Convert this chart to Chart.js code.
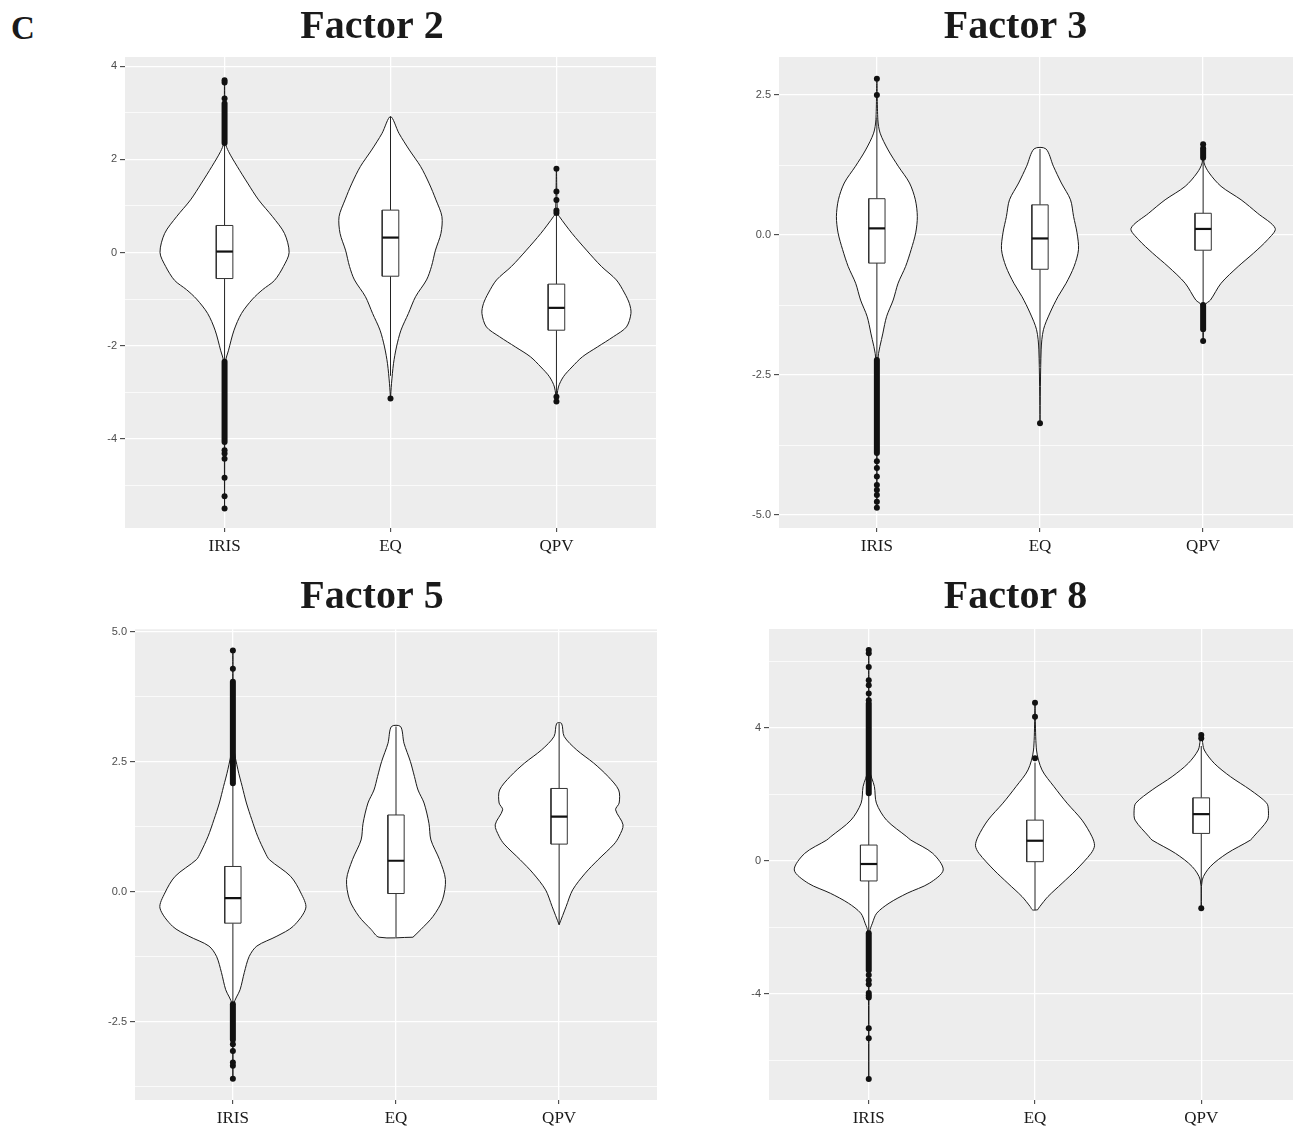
<!doctype html>
<html>
<head>
<title>Factors</title>
<script src="https://cdn.jsdelivr.net/npm/chart.js"></script>
<style>
  body { margin: 0; width: 1293px; height: 1127px; overflow: hidden; background: #fff; position: relative; }
  .panel { position: absolute; }
  #letter { position: absolute; left: 11px; top: 12px; font: bold 33px/33px 'Liberation Serif', serif; color: #1a1a1a; }
</style>
</head>
<body>
<div id="letter">C</div>
<div class="panel" style="left:88px;top:0px"><canvas id="f2" width="568" height="565"></canvas></div>
<div class="panel" style="left:730px;top:0px"><canvas id="f3" width="571" height="565"></canvas></div>
<div class="panel" style="left:87px;top:570px"><canvas id="f5" width="570" height="567"></canvas></div>
<div class="panel" style="left:730px;top:570px"><canvas id="f8" width="571" height="567"></canvas></div>

<script>
var categories = ['IRIS', 'EQ', 'QPV'];

// violin profiles: [value, half width in category units], bottom to top
// boxes: [lower whisker, q1, median, q3, upper whisker]

// Factor 2
var f2Range = [-5.92, 4.2];
var f2Major = [-4, -2, 0, 2, 4];
var f2TickLabels = ['-4', '-2', '0', '2', '4'];
var f2Minor = [-5, -3, -1, 1, 3];
var f2ViolinIRIS = [[-5.5, 0], [-2.35, 0.006], [-2.1, 0.024], [-1.67, 0.057], [-1.31, 0.102], [-1.0, 0.169], [-0.8, 0.229], [-0.6, 0.301], [-0.3, 0.355], [0.0, 0.389], [0.41, 0.361], [0.77, 0.289], [1.13, 0.205], [1.49, 0.139], [1.85, 0.076], [2.17, 0.024], [2.35, 0.006], [3.72, 0]];
var f2ViolinEQ = [[-3.14, 0], [-2.82, 0.006], [-2.39, 0.018], [-2.03, 0.036], [-1.67, 0.063], [-1.31, 0.108], [-0.95, 0.151], [-0.59, 0.217], [-0.3, 0.247], [0.05, 0.271], [0.41, 0.304], [0.77, 0.31], [1.13, 0.274], [1.49, 0.232], [1.85, 0.181], [2.2, 0.114], [2.56, 0.051], [2.92, 0]];
var f2ViolinQPV = [[-3.2, 0], [-2.89, 0.012], [-2.67, 0.042], [-2.46, 0.094], [-2.24, 0.157], [-2.03, 0.247], [-1.81, 0.343], [-1.6, 0.422], [-1.31, 0.449], [-1.1, 0.44], [-0.87, 0.41], [-0.59, 0.361], [-0.3, 0.271], [0.05, 0.181], [0.41, 0.094], [0.77, 0.018], [0.85, 0.006], [1.8, 0]];
var f2Boxes = [[-2.3, -0.56, 0.02, 0.58, 2.3], [-2.65, -0.51, 0.32, 0.91, 2.92], [-3.1, -1.67, -1.19, -0.68, 0.8]];
var f2Strips = [[[-4.07, -2.35], [2.35, 3.2]], [], []];
var f2Outliers = [[-5.5, -5.24, -4.84, -4.43, -4.32, -4.25, 3.31, 3.65, 3.7], [-3.14], [-3.2, -3.1, 0.85, 0.9, 1.13, 1.31, 1.8]];

// Factor 3
var f3Range = [-5.23, 3.18];
var f3Major = [-5, -2.5, 0, 2.5];
var f3TickLabels = ['-5.0', '-2.5', '0.0', '2.5'];
var f3Minor = [-3.75, -1.25, 1.25];
var f3ViolinIRIS = [[-4.87, 0], [-2.23, 0.006], [-1.75, 0.037], [-1.45, 0.06], [-1.16, 0.1], [-0.86, 0.13], [-0.56, 0.176], [-0.26, 0.21], [0.04, 0.238], [0.33, 0.248], [0.63, 0.236], [0.93, 0.2], [1.23, 0.131], [1.52, 0.069], [1.82, 0.02], [2.06, 0.006], [2.79, 0]];
var f3ViolinEQ = [[-3.36, 0], [-2.05, 0.007], [-1.69, 0.021], [-1.39, 0.061], [-1.1, 0.11], [-0.86, 0.16], [-0.56, 0.209], [-0.26, 0.236], [0.04, 0.227], [0.33, 0.206], [0.63, 0.187], [0.93, 0.131], [1.23, 0.082], [1.54, 0.036]];
var f3ViolinQPV = [[-1.9, 0], [-1.25, 0.012], [-1.16, 0.045], [-0.86, 0.11], [-0.56, 0.215], [-0.32, 0.31], [-0.08, 0.396], [0.12, 0.442], [0.39, 0.334], [0.63, 0.233], [0.87, 0.11], [1.11, 0.037], [1.29, 0.006], [1.62, 0]];
var f3Boxes = [[-2.2, -0.5, 0.12, 0.65, 2.1], [-2.3, -0.61, -0.06, 0.54, 1.54], [-1.25, -0.27, 0.11, 0.39, 1.35]];
var f3Strips = [[[-3.89, -2.23]], [], [[-1.68, -1.25], [1.38, 1.55]]];
var f3Outliers = [[-4.87, -4.76, -4.64, -4.55, -4.46, -4.31, -4.16, -4.04, 2.5, 2.79], [-3.36], [-1.89, 1.62]];

// Factor 5
var f5Range = [-4.0, 5.05];
var f5Major = [-2.5, 0, 2.5, 5];
var f5TickLabels = ['-2.5', '0.0', '2.5', '5.0'];
var f5Minor = [-3.75, -1.25, 1.25, 3.75];
var f5ViolinIRIS = [[-3.59, 0], [-2.16, 0.006], [-1.88, 0.044], [-1.55, 0.07], [-1.24, 0.1], [-1.04, 0.147], [-0.85, 0.27], [-0.66, 0.37], [-0.31, 0.447], [-0.02, 0.417], [0.3, 0.354], [0.62, 0.224], [0.75, 0.199], [1.07, 0.152], [1.39, 0.116], [1.71, 0.083], [2.03, 0.057], [2.35, 0.031], [2.79, 0.006], [4.64, 0]];
var f5ViolinEQ = [[-0.87, 0.104], [-0.72, 0.153], [-0.47, 0.227], [-0.15, 0.285], [0.24, 0.303], [0.62, 0.267], [1.0, 0.214], [1.32, 0.202], [1.71, 0.172], [1.96, 0.135], [2.22, 0.113], [2.51, 0.088], [2.86, 0.049], [3.18, 0.028]];
var f5ViolinQPV = [[-0.63, 0], [-0.28, 0.043], [0.04, 0.083], [0.36, 0.16], [0.62, 0.239], [0.92, 0.337], [1.07, 0.368], [1.29, 0.392], [1.58, 0.346], [1.71, 0.368], [1.96, 0.365], [2.22, 0.3], [2.48, 0.211], [2.73, 0.108], [2.99, 0.031], [3.24, 0.015]];
var f5Boxes = [[-2.2, -0.6, -0.12, 0.49, 2.1], [-0.87, -0.03, 0.6, 1.48, 3.18], [-0.63, 0.92, 1.45, 1.99, 3.24]];
var f5Strips = [[[-2.84, -2.16], [2.09, 4.04]], [], []];
var f5Outliers = [[-3.59, -3.34, -3.28, -3.06, -2.93, 4.29, 4.64], [], []];

// Factor 8
var f8Range = [-7.2, 6.97];
var f8Major = [-4, 0, 4];
var f8TickLabels = ['-4', '0', '4'];
var f8Minor = [-6, -2, 2, 6];
var f8ViolinIRIS = [[-6.57, 0], [-2.14, 0.006], [-1.88, 0.022], [-1.58, 0.048], [-1.28, 0.122], [-0.98, 0.231], [-0.68, 0.364], [-0.28, 0.448], [0.22, 0.385], [0.62, 0.253], [0.72, 0.229], [1.22, 0.107], [1.73, 0.046], [2.23, 0.034], [2.73, 0.006], [6.34, 0]];
var f8ViolinEQ = [[-1.48, 0.015], [-1.38, 0.029], [-1.08, 0.078], [-0.68, 0.163], [-0.28, 0.247], [0.22, 0.337], [0.45, 0.358], [0.72, 0.343], [1.22, 0.283], [1.73, 0.193], [2.23, 0.114], [2.73, 0.042], [3.33, 0.009], [4.75, 0]];
var f8ViolinQPV = [[-1.43, 0], [-0.58, 0.006], [-0.18, 0.054], [0.22, 0.155], [0.62, 0.296], [0.72, 0.314], [1.22, 0.398], [1.5, 0.404], [1.73, 0.394], [2.13, 0.295], [2.53, 0.175], [2.93, 0.078], [3.33, 0.018], [3.63, 0.006], [3.78, 0]];
var f8Boxes = [[-2.2, -0.61, -0.1, 0.47, 2.05], [-1.48, -0.03, 0.6, 1.22, 2.95], [-0.7, 0.82, 1.4, 1.89, 3.45]];
var f8Strips = [[[-3.3, -2.18], [2.03, 4.73]], [], []];
var f8Outliers = [[-6.57, -5.34, -5.04, -4.12, -4.05, -3.98, -3.72, -3.6, -3.44, 4.83, 5.03, 5.28, 5.43, 5.83, 6.24, 6.34], [3.08, 4.33, 4.75], [-1.43, 3.68, 3.78]];

var panelBg = {
    id: 'panelBg',
    beforeDraw: function (chart) {
        var a = chart.chartArea;
        chart.ctx.save();
        chart.ctx.fillStyle = '#ededed';
        chart.ctx.fillRect(a.left, a.top, a.right - a.left, a.bottom - a.top);
        chart.ctx.restore();
    }
};

function violinPoints(c, profile) {
    var n = profile.length;
    var pts = profile.map(function (p) { return {x: c + p[1], y: p[0]}; });
    for (var i = n - 1; i >= 0; i--) {
        if (i === n - 1 && profile[i][1] === 0) continue; // top tip already there
        pts.push({x: c - profile[i][1], y: profile[i][0]});
    }
    if (profile[0][1] !== 0) pts.push({x: c + profile[0][1], y: profile[0][0]});
    return pts;
}

function lineSet(data, opts) {
    var ds = {
        type: 'line',
        data: data,
        borderColor: '#222',
        borderWidth: 1,
        pointRadius: 0,
        pointHoverRadius: 0,
        fill: false,
        tension: 0
    };
    Object.assign(ds, opts);
    return ds;
}

function makeChart(id, title, pad, yWidth, range, major, tickLabels, minor, violins, boxes, strips, outliers) {
    var datasets = [];
    var bw = 0.05;
    violins.forEach(function (profile, i) {
        var c = i + 1;
        datasets.push(lineSet(violinPoints(c, profile), {
            fill: 'shape', backgroundColor: '#ffffff', borderColor: '#1a1a1a', borderWidth: 1, tension: 0.3, order: 50
        }));
        var b = boxes[i];
        datasets.push(lineSet([{x: c, y: b[0]}, {x: c, y: b[1]}], {order: 40}));
        datasets.push(lineSet([{x: c, y: b[3]}, {x: c, y: b[4]}], {order: 40}));
        datasets.push(lineSet([
            {x: c - bw, y: b[1]}, {x: c + bw, y: b[1]}, {x: c + bw, y: b[3]},
            {x: c - bw, y: b[3]}, {x: c - bw, y: b[1]}
        ], {fill: 'shape', backgroundColor: '#ffffff', borderColor: '#333', order: 30}));
        datasets.push(lineSet([{x: c - bw, y: b[2]}, {x: c + bw, y: b[2]}], {borderColor: '#111', borderWidth: 2.2, order: 20}));
        strips[i].forEach(function (s) {
            datasets.push(lineSet([{x: c, y: s[0]}, {x: c, y: s[1]}], {
                borderColor: '#111', borderWidth: 6, borderCapStyle: 'round', order: 10
            }));
        });
        if (outliers[i].length) {
            datasets.push({
                type: 'line',
                showLine: false,
                data: outliers[i].map(function (v) { return {x: c, y: v}; }),
                pointRadius: 3,
                pointHoverRadius: 3,
                pointBackgroundColor: '#111',
                pointBorderWidth: 0,
                order: 5
            });
        }
    });

    function isMajor(ctx) {
        return ctx.tick && major.indexOf(ctx.tick.value) >= 0;
    }

    return new Chart(document.getElementById(id).getContext('2d'), {
        type: 'line',
        data: { datasets: datasets },
        options: {
            responsive: false,
            animation: false,
            events: [],
            layout: { padding: 0, autoPadding: false },
            plugins: {
                legend: { display: false },
                tooltip: { enabled: false },
                title: {
                    display: true,
                    text: title,
                    color: '#1a1a1a',
                    font: { family: 'Liberation Serif', size: 40, weight: 'bold', lineHeight: 1.2 },
                    padding: pad
                }
            },
            scales: {
                x: {
                    type: 'linear',
                    min: 0.4,
                    max: 3.6,
                    afterBuildTicks: function (scale) {
                        scale.ticks = categories.map(function (c, i) { return {value: i + 1}; });
                    },
                    afterFit: function (scale) { scale.height = 37; },
                    border: { display: false },
                    grid: { color: '#ffffff', lineWidth: 1.3, tickColor: '#333', tickLength: 4, tickWidth: 1 },
                    ticks: {
                        autoSkip: false,
                        maxRotation: 0,
                        padding: 4,
                        color: '#1a1a1a',
                        font: { family: 'Liberation Serif', size: 17 },
                        callback: function (v) { return categories[v - 1]; }
                    }
                },
                y: {
                    type: 'linear',
                    min: range[0],
                    max: range[1],
                    afterBuildTicks: function (scale) {
                        scale.ticks = major.concat(minor).sort(function (a, b) { return a - b; })
                            .map(function (v) { return {value: v}; });
                    },
                    afterFit: function (scale) { scale.width = yWidth; },
                    border: { display: false },
                    grid: {
                        color: '#ffffff',
                        lineWidth: function (ctx) { return isMajor(ctx) ? 1.3 : 0.7; },
                        tickColor: function (ctx) { return isMajor(ctx) ? '#333' : 'rgba(0,0,0,0)'; },
                        tickLength: 5,
                        tickWidth: 1
                    },
                    ticks: {
                        autoSkip: false,
                        padding: 3,
                        color: '#4d4d4d',
                        font: { family: 'Liberation Sans', size: 11 },
                        callback: function (v) {
                            var k = major.indexOf(v);
                            return k >= 0 ? tickLabels[k] : '';
                        }
                    }
                }
            }
        },
        plugins: [panelBg]
    });
}

makeChart('f2', 'Factor 2', {top: 3.5, bottom: 5.5}, 37, f2Range, f2Major, f2TickLabels, f2Minor,
    [f2ViolinIRIS, f2ViolinEQ, f2ViolinQPV], f2Boxes, f2Strips, f2Outliers);
makeChart('f3', 'Factor 3', {top: 3.5, bottom: 5.5}, 49, f3Range, f3Major, f3TickLabels, f3Minor,
    [f3ViolinIRIS, f3ViolinEQ, f3ViolinQPV], f3Boxes, f3Strips, f3Outliers);
makeChart('f5', 'Factor 5', {top: 4, bottom: 7.3}, 48, f5Range, f5Major, f5TickLabels, f5Minor,
    [f5ViolinIRIS, f5ViolinEQ, f5ViolinQPV], f5Boxes, f5Strips, f5Outliers);
makeChart('f8', 'Factor 8', {top: 4, bottom: 7}, 39, f8Range, f8Major, f8TickLabels, f8Minor,
    [f8ViolinIRIS, f8ViolinEQ, f8ViolinQPV], f8Boxes, f8Strips, f8Outliers);
</script>
</body>
</html>
